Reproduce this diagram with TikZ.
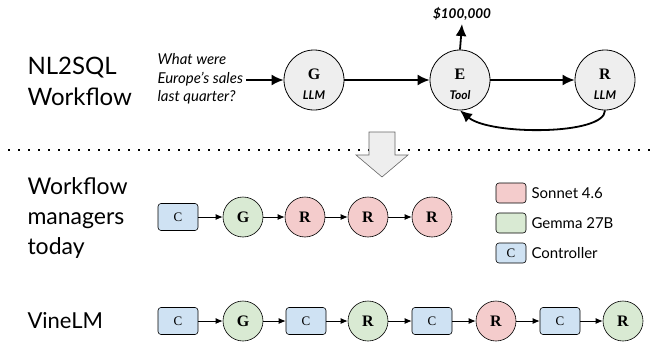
\documentclass[tikz,border=0pt]{standalone}
\usepackage{fontspec}
\setmainfont{Liberation Serif}
\newfontfamily\lab{Lato}
\usetikzlibrary{arrows.meta}
\definecolor{redC}{HTML}{F4CCCC}
\definecolor{greenC}{HTML}{D9EAD3}
\definecolor{blueC}{HTML}{CFE2F3}
\definecolor{grayC}{HTML}{EEEEEE}
\begin{document}
\begin{tikzpicture}[x=1pt,y=-1pt,
  big/.style={circle,draw,line width=0.8pt,fill=grayC,minimum size=60pt,inner sep=0pt,align=center},
  bigl/.style={font=\bfseries\fontsize{16}{16}\selectfont},
  subl/.style={font=\lab\bfseries\itshape\fontsize{12}{12}\selectfont},
  sm/.style={circle,draw,line width=0.6pt,minimum size=40pt,inner sep=0pt,font=\bfseries\fontsize{16}{16}\selectfont},
  smr/.style={sm,fill=redC},
  smg/.style={sm,fill=greenC},
  ctl/.style={draw,rounded corners=3pt,fill=blueC,line width=0.6pt,minimum width=40pt,minimum height=27pt,inner sep=0pt,font=\fontsize{13}{13}\selectfont},
  arr/.style={-{Latex[length=7pt,width=6pt]},line width=0.9pt},
  tarr/.style={-{Latex[length=12pt,width=11pt]},line width=1.8pt},
  title/.style={font=\lab\fontsize{24}{31}\selectfont,align=left,anchor=west},
  legbox/.style={draw,rounded corners=3pt,line width=0.6pt,minimum width=30pt,minimum height=20pt,inner sep=0pt,font=\fontsize{13}{13}\selectfont},
  legtxt/.style={font=\lab\fontsize{15}{15}\selectfont,anchor=west},
]
\useasboundingbox (0,0) rectangle (654,343);

% ---- top workflow ----
\node[title] (t1) at (24,81) {NL2SQL\\Workflow};
\node[font=\lab\itshape\fontsize{15}{18.5}\selectfont,align=left,anchor=west] (q) at (154,79) {What were\\Europe’s sales\\last quarter?};
\node[big] (G) at (314,80) {};
\node[bigl] (Gl) at (314,74) {G};
\node[subl] (Gs) at (314,95) {LLM};
\node[big] (E) at (460,80) {};
\node[bigl] (El) at (460,74) {E};
\node[subl] (Es) at (460,95) {Tool};
\node[big] (R) at (605,80) {};
\node[bigl] (Rl) at (605,74) {R};
\node[subl] (Rs) at (605,95) {LLM};
\node[font=\lab\bfseries\itshape\fontsize{13.5}{13.5}\selectfont] (res) at (462,14) {\$100,000};
\coordinate (qe) at (246,80);
\draw[tarr] (qe) -- (G);
\draw[tarr] (G) -- (E);
\draw[tarr] (E) -- (R);
\draw[tarr] (E.north) -- (res.south);
\draw[tarr] (R.south) .. controls +(0,25) and +(30,25) .. (E.south);

% ---- separator and hollow arrow ----
\coordinate (d1) at (8,150);
\coordinate (d2) at (650,150);
\draw[line width=1.5pt,dash pattern=on 1.5pt off 8.5pt] (d1) -- (d2);
\filldraw[fill=grayC,draw=gray!80!black,line width=0.6pt]
  (369,132) -- (395,132) -- (395,155) -- (408,155) -- (382,177) -- (356,155) -- (369,155) -- cycle;

% ---- workflow managers today ----
\node[title,font=\lab\fontsize{23}{30}\selectfont] (t2) at (24,218) {Workflow\\managers\\today};
\node[ctl] (a1) at (178,217) {C};
\node[smg] (a2) at (243,217) {G};
\node[smr] (a3) at (305,217) {R};
\node[smr] (a4) at (368,217) {R};
\node[smr] (a5) at (432,217) {R};
\draw[arr] (a1) -- (a2);
\draw[arr] (a2) -- (a3);
\draw[arr] (a3) -- (a4);
\draw[arr] (a4) -- (a5);

% ---- legend ----
\node[legbox,fill=redC] (l1) at (511,193) {};
\node[legtxt] (l1t) at (528,193) {Sonnet 4.6};
\node[legbox,fill=greenC] (l2) at (511,223) {};
\node[legtxt] (l2t) at (528,223) {Gemma 27B};
\node[legbox,fill=blueC] (l3) at (511,253) {C};
\node[legtxt] (l3t) at (528,253) {Controller};

% ---- VineLM ----
\node[title,font=\lab\fontsize{22}{30}\selectfont] (t3) at (24,321) {VineLM};
\node[ctl] (b1) at (178,321) {C};
\node[smg] (b2) at (243,321) {G};
\node[ctl] (b3) at (306,321) {C};
\node[smg] (b4) at (368,321) {R};
\node[ctl] (b5) at (432,321) {C};
\node[smr] (b6) at (496,321) {R};
\node[ctl] (b7) at (560,321) {C};
\node[smg] (b8) at (623,321) {R};
\draw[arr] (b1) -- (b2);
\draw[arr] (b2) -- (b3);
\draw[arr] (b3) -- (b4);
\draw[arr] (b4) -- (b5);
\draw[arr] (b5) -- (b6);
\draw[arr] (b6) -- (b7);
\draw[arr] (b7) -- (b8);
\end{tikzpicture}
\end{document}
